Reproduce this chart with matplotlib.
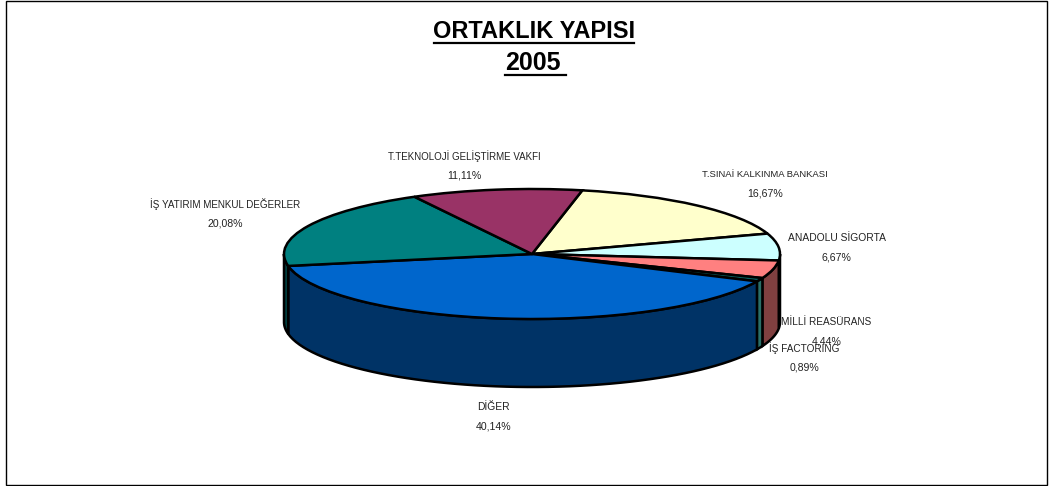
import matplotlib
matplotlib.use('Agg')
import matplotlib.pyplot as plt
import numpy as np
from matplotlib.lines import Line2D
from matplotlib.patches import Rectangle

names = ['T.SINAİ KALKINMA BANKASI', 'ANADOLU SİGORTA', 'MİLLİ REASÜRANS', 'İŞ FACTORING',
         'DİĞER', 'İŞ YATIRIM MENKUL DEĞERLER', 'T.TEKNOLOJİ GELİŞTİRME VAKFI']
values = [16.67, 6.67, 4.44, 0.89, 40.14, 20.08, 11.11]
value_labels = ['16,67%', '6,67%', '4,44%', '0,89%', '40,14%', '20,08%', '11,11%']
top_colors = ['#FFFFCC', '#CCFFFF', '#FF8080', '#0B5F5F', '#0066CC', '#008080', '#993366']
side_colors = ['#808066', '#668080', '#804040', '#2A6F68', '#003366', '#004040', '#4D1A33']
label_x = [765, 836.5, 826.5, 804, 493.5, 225, 464]
label_y = [174, 238, 322, 348, 407, 204, 156]
name_sizes = [6.8, 7.4, 7.2, 7.2, 7.4, 7.1, 7.0]

W, H = 1052, 486
start_angle = 78.3
cx, cy, rx, ry = 532, 254, 248, 65
depth = 68 / ry

fig = plt.figure(figsize=(W / 100, H / 100), dpi=100)
plt.rcParams['font.family'] = ['Liberation Sans', 'DejaVu Sans']

ax = fig.add_axes([(cx - rx) / W, 1 - (cy + ry) / H, 2 * rx / W, 2 * ry / H])

# side walls first, only the front half of the pie shows
edges = start_angle - np.cumsum([0] + values) * 3.6
for i in range(len(values)):
    hi = min(edges[i], 0)
    lo = max(edges[i + 1], -180)
    if hi <= lo:
        continue
    t = np.radians(np.linspace(hi, lo, 60))
    xs = np.concatenate([np.cos(t), np.cos(t[::-1])])
    ys = np.concatenate([np.sin(t), np.sin(t[::-1]) - depth])
    ax.fill(xs, ys, facecolor=side_colors[i], edgecolor='black', linewidth=1.8, clip_on=False, zorder=1)

wedges, _ = ax.pie(values, colors=top_colors, startangle=start_angle, counterclock=False, radius=1,
                   wedgeprops={'edgecolor': 'black', 'linewidth': 1.8, 'clip_on': False})
for w in wedges:
    w.set_zorder(2)
ax.set_aspect('auto')
ax.set_xlim(-1, 1)
ax.set_ylim(-1, 1)
ax.axis('off')

# chart border
fig.add_artist(Rectangle((6 / W, 1 / H), 1041 / W, 484 / H, transform=fig.transFigure,
                         facecolor='none', edgecolor='black', linewidth=1))

# title with underlines
fig.text(534.5 / W, 1 - 31 / H, 'ORTAKLIK YAPISI', ha='center', va='center', fontsize=17, fontweight='bold')
fig.text(533 / W, 1 - 63 / H, '2005', ha='center', va='center', fontsize=18, fontweight='bold')
fig.add_artist(Line2D([434 / W, 634 / W], [1 - 43.5 / H, 1 - 43.5 / H], color='black', linewidth=1.6))
fig.add_artist(Line2D([505 / W, 566 / W], [1 - 75.5 / H, 1 - 75.5 / H], color='black', linewidth=1.6))

for name, pct, x, y, size in zip(names, value_labels, label_x, label_y, name_sizes):
    fig.text(x / W, 1 - y / H, name, ha='center', va='center', fontsize=size, color='#222222')
    fig.text(x / W, 1 - (y + 19) / H, pct, ha='center', va='center', fontsize=7.6, color='#222222')

plt.savefig('out.png', dpi=100)
